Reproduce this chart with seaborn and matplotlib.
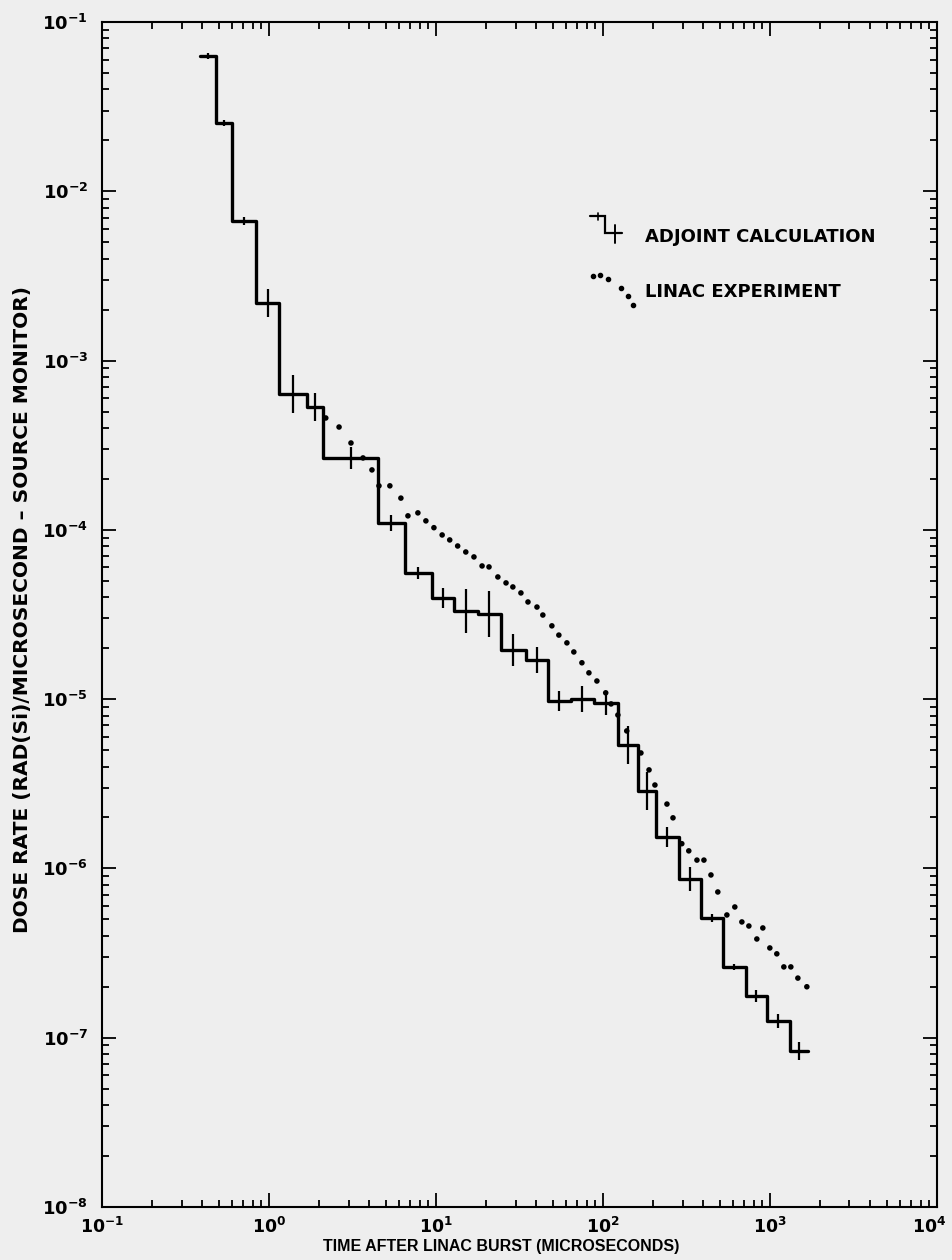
import numpy as np
import pandas as pd
import matplotlib
matplotlib.use("Agg")
import matplotlib.pyplot as plt
import seaborn as sns
from matplotlib.ticker import LogLocator, FixedLocator, LogFormatterSciNotation, NullFormatter
from matplotlib.transforms import ScaledTranslation

# ---------------- data ----------------
# Adjoint calculation: time-bin edges (microseconds) and dose rate in each bin
adj_edges = [0.386, 0.482, 0.600, 0.836, 1.15, 1.69, 2.11, 4.50, 6.52, 9.46,
             12.8, 17.8, 24.5, 34.6, 46.9, 64.3, 88.3, 123, 162, 208,
             285, 386, 523, 718, 960, 1318, 1690]
adj_rate = [6.30e-2, 2.53e-2, 6.68e-3, 2.19e-3, 6.35e-4, 5.32e-4, 2.66e-4, 1.10e-4,
            5.56e-5, 3.96e-5, 3.32e-5, 3.18e-5, 1.95e-5, 1.70e-5, 9.76e-6, 1.00e-5,
            9.50e-6, 5.36e-6, 2.87e-6, 1.54e-6, 8.67e-7, 5.10e-7, 2.62e-7, 1.77e-7,
            1.26e-7, 8.36e-8]
# multiplicative (log-symmetric) error factor of each bin
adj_err_factor = [1.042, 1.042, 1.056, 1.211, 1.296, 1.211, 1.162, 1.116, 1.085, 1.146,
                  1.351, 1.369, 1.244, 1.194, 1.146, 1.194, 1.178, 1.296, 1.296, 1.146,
                  1.178, 1.056, 1.042, 1.085, 1.100, 1.131]

# LINAC experiment (dotted curve)
linac_t = [2.19, 2.63, 3.10, 3.66, 4.14, 4.56, 5.30, 6.17, 6.80, 7.80,
           8.71, 9.73, 10.9, 12.1, 13.5, 15.1, 16.9, 18.9, 20.8, 23.5,
           26.3, 28.9, 32.3, 35.6, 40.3, 43.7, 49.5, 54.5, 60.9, 67.0,
           74.9, 82.5, 92.1, 104, 112, 123, 139, 169, 189, 205,
           242, 263, 297, 327, 366, 403, 444, 488, 553, 617,
           680, 749, 836, 908, 1000, 1101, 1213, 1336, 1472, 1666]
linac_rate = [4.58e-4, 4.05e-4, 3.26e-4, 2.66e-4, 2.26e-4, 1.82e-4, 1.82e-4, 1.54e-4, 1.21e-4, 1.26e-4,
              1.13e-4, 1.03e-4, 9.33e-5, 8.72e-5, 8.03e-5, 7.40e-5, 6.92e-5, 6.12e-5, 6.04e-5, 5.27e-5,
              4.86e-5, 4.60e-5, 4.24e-5, 3.75e-5, 3.50e-5, 3.14e-5, 2.71e-5, 2.39e-5, 2.15e-5, 1.90e-5,
              1.64e-5, 1.43e-5, 1.28e-5, 1.09e-5, 9.37e-6, 8.06e-6, 6.49e-6, 4.81e-6, 3.82e-6, 3.11e-6,
              2.40e-6, 1.99e-6, 1.40e-6, 1.27e-6, 1.12e-6, 1.12e-6, 9.15e-7, 7.26e-7, 5.31e-7, 5.92e-7,
              4.83e-7, 4.57e-7, 3.83e-7, 4.45e-7, 3.39e-7, 3.13e-7, 2.62e-7, 2.62e-7, 2.25e-7, 2.00e-7]

x_decades = [-1, 0, 1, 2, 3, 4]
y_decades = [-8, -7, -6, -5, -4, -3, -2, -1]

legend_labels = ["ADJOINT CALCULATION", "LINAC EXPERIMENT"]
x_label = "TIME AFTER LINAC BURST (MICROSECONDS)"
y_label = "DOSE RATE (RAD(Si)/MICROSECOND \u2013 SOURCE MONITOR)"

# ---------------- style ----------------
sns.set_style("ticks")
paper = "#eeeeee"
plt.rcParams["font.family"] = ["DejaVu Sans"]
plt.rcParams["font.weight"] = "bold"
plt.rcParams["mathtext.fontset"] = "dejavusans"
plt.rcParams["mathtext.default"] = "bf"
for key in ("text.color", "axes.labelcolor", "xtick.color", "ytick.color",
            "xtick.labelcolor", "ytick.labelcolor"):
    plt.rcParams[key] = "black"

fig = plt.figure(figsize=(9.53, 12.6), dpi=100, facecolor=paper)
ax = fig.add_axes([0.107, 1 - 1207 / 1260, 0.876, 1185 / 1260])
ax.set_facecolor(paper)
ax.set_xscale("log")
ax.set_yscale("log")

# adjoint calculation histogram (steps)
step_df = pd.DataFrame({"t": adj_edges, "rate": adj_rate + [adj_rate[-1]]})
sns.lineplot(data=step_df, x="t", y="rate", drawstyle="steps-post", color="black",
             linewidth=2.4, estimator=None, sort=False, ax=ax)

edges = np.array(adj_edges)
rate = np.array(adj_rate)
fac = np.array(adj_err_factor)
centers = np.sqrt(edges[:-1] * edges[1:])
ax.errorbar(centers, rate, yerr=[rate - rate / fac, rate * fac - rate], fmt="none",
            ecolor="black", elinewidth=1.6, capsize=0)

# LINAC experiment dots
sns.scatterplot(x=linac_t, y=linac_rate, color="black", s=16, edgecolor="none", ax=ax)

ax.set_xlim(10.0 ** x_decades[0], 10.0 ** x_decades[-1])
ax.set_ylim(10.0 ** y_decades[0], 10.0 ** y_decades[-1])

for a, dec in ((ax.xaxis, x_decades), (ax.yaxis, y_decades)):
    a.set_major_locator(FixedLocator([10.0 ** d for d in dec]))
    a.set_minor_locator(LogLocator(base=10, subs=np.arange(2, 10), numticks=200))
    a.set_major_formatter(LogFormatterSciNotation())
    a.set_minor_formatter(NullFormatter())

ax.tick_params(which="both", direction="in", top=True, right=True, width=1.3, color="black")
ax.tick_params(which="major", length=10)
ax.tick_params(which="minor", length=5)
ax.tick_params(axis="y", which="major", pad=10, labelsize=13)
ax.tick_params(axis="x", which="major", pad=7, labelsize=12.5)
for s in ax.spines.values():
    s.set_linewidth(1.5)
    s.set_color("black")

ax.set_xlabel(x_label, fontsize=11.5, fontweight="bold",
              family=["Liberation Sans Narrow", "Liberation Sans", "DejaVu Sans"])
ax.set_ylabel(y_label, fontsize=14.5, fontweight="bold", family=["DejaVu Sans"])
ax.xaxis.set_label_coords(0.478, -0.027)
ax.yaxis.set_label_coords(-0.084, 0.504)

# legend (hand-drawn glyphs in axes coordinates)
tr = ax.transAxes
ax.plot([0.584, 0.602, 0.602, 0.623], [0.836, 0.836, 0.822, 0.822], color="black",
        lw=1.6, transform=tr, solid_joinstyle="miter")
ax.plot([0.594, 0.594], [0.833, 0.839], color="black", lw=1.2, transform=tr)
ax.plot([0.614, 0.614], [0.8135, 0.829], color="black", lw=1.4, transform=tr)
ax.plot([0.588, 0.596, 0.606, 0.6216, 0.630, 0.636],
        [0.786, 0.7865, 0.783, 0.7755, 0.769, 0.761], "o", color="black", ms=3,
        transform=tr)
ax.text(0.650, 0.8186, legend_labels[0], transform=tr, fontsize=13, fontweight="bold",
        va="center", ha="left")
ax.text(0.650, 0.772, legend_labels[1], transform=tr, fontsize=13, fontweight="bold",
        va="center", ha="left")

# nudge the last x tick label so it stays inside the figure
fig.canvas.draw()
last_tick = ax.xaxis.get_major_ticks()[-1]
last_tick.label1.set_transform(last_tick.label1.get_transform()
                               + ScaledTranslation(-0.08, 0, fig.dpi_scale_trans))

fig.savefig("out.png", dpi=100, facecolor=paper)
